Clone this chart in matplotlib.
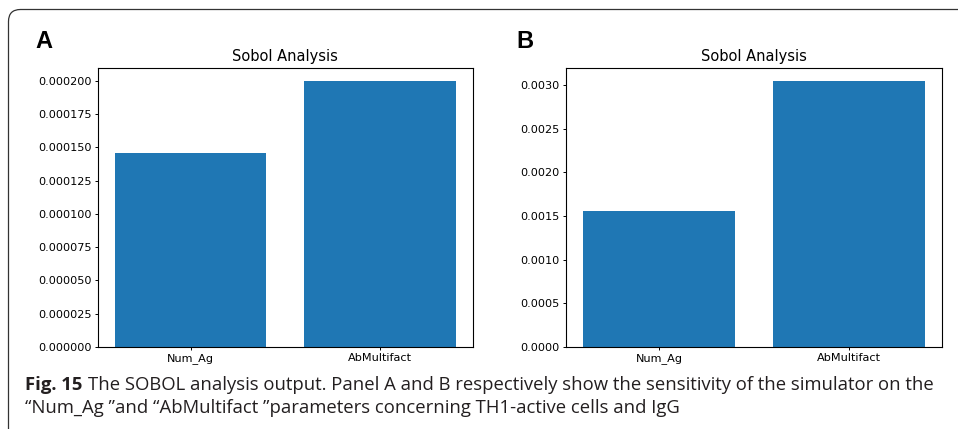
import matplotlib.pyplot as plt
from matplotlib.patches import FancyBboxPatch
from matplotlib.transforms import IdentityTransform

# sobol indices
params = ['Num_Ag', 'AbMultifact']
sobol_a = [0.000146, 0.0002]
sobol_b = [0.00156, 0.00305]

ticks_a = [0, 0.000025, 0.00005, 0.000075, 0.0001, 0.000125, 0.00015, 0.000175, 0.0002]
ticks_b = [0, 0.0005, 0.001, 0.0015, 0.002, 0.0025, 0.003]

blue = '#1f77b4'

fig = plt.figure(figsize=(9.58, 4.29), dpi=100)

# rounded frame round the figure (pixel coords)
frame = FancyBboxPatch((8.5, -60), 1100, 429 - 9.5 + 60,
                       boxstyle='round,pad=0,rounding_size=12',
                       transform=IdentityTransform(), fill=False,
                       edgecolor='#333333', linewidth=0.9)
fig.add_artist(frame)

ax1 = fig.add_axes([0.102, 0.1918, 0.3916, 0.6503])
ax2 = fig.add_axes([0.5908, 0.1918, 0.3928, 0.6503])

for ax, vals, ticks, fmt in [(ax1, sobol_a, ticks_a, '%.6f'), (ax2, sobol_b, ticks_b, '%.4f')]:
    ax.bar(params, vals, color=blue)
    ax.set_yticks(ticks)
    ax.set_yticklabels([fmt % t for t in ticks])
    ax.set_title('Sobol Analysis', fontsize=10.5, pad=5)
    ax.tick_params(labelsize=8.1, length=2.5, width=0.7, pad=2)
    for s in ax.spines.values():
        s.set_linewidth(0.8)

fig.text(35 / 958, 1 - 41 / 429, 'A', fontsize=17, fontweight='bold',
         family='Liberation Sans', va='center', ha='left')
fig.text(516 / 958, 1 - 41 / 429, 'B', fontsize=17, fontweight='bold',
         family='Liberation Sans', va='center', ha='left')

# caption
cap_font = 'Open Sans'
cap_size = 13.3
y1 = 1 - 390 / 429
y2 = 1 - 413 / 429
t_bold = fig.text(25 / 958, y1, 'Fig. 15', fontsize=cap_size, fontweight='bold',
                  family=cap_font, va='baseline', color='#231f20')
fig.canvas.draw()
r = fig.canvas.get_renderer()
bb = t_bold.get_window_extent(r)
x_next = (bb.x1 + 6) / 958
fig.text(x_next, y1, 'The SOBOL analysis output. Panel A and B respectively show the sensitivity of the simulator on the',
         fontsize=cap_size, family=cap_font, va='baseline', color='#231f20')
fig.text(25 / 958, y2, '\u201cNum_Ag \u201dand \u201cAbMultifact \u201dparameters concerning TH1-active cells and IgG',
         fontsize=cap_size, family=cap_font, va='baseline', color='#231f20')

fig.savefig('out.png', dpi=100)
